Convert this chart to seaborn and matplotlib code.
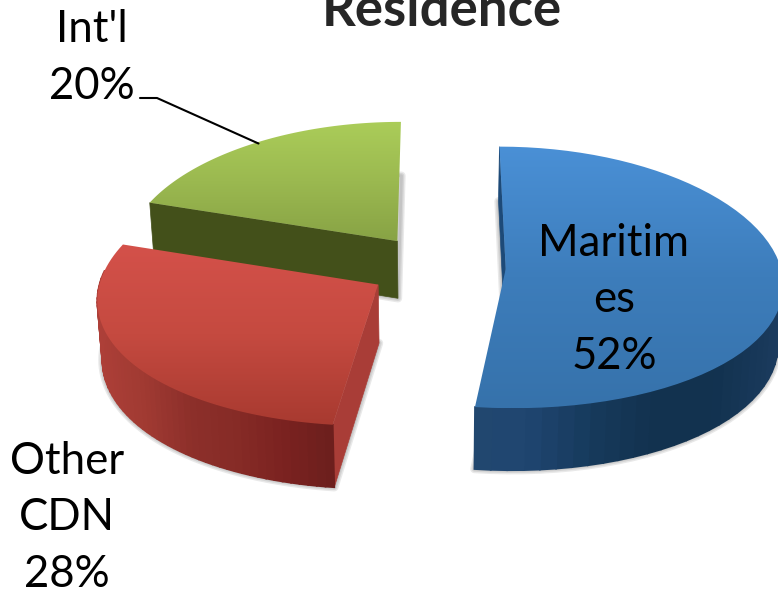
"""Exploded 3D style pie of residence shares, drawn on a pixel sized axes."""

import matplotlib
matplotlib.use("Agg")
import matplotlib.pyplot as plt
from matplotlib.patches import Polygon
import numpy as np
import seaborn as sns

title = "Residence"
labels = ["Maritim\nes", "Other\nCDN", "Int'l"]
shares = [52, 28, 20]

top_colors = [
    ["#4a90d6", "#3d7dbb", "#3672ab"],
    ["#d4514a", "#c54a40", "#a83a30"],
    ["#abcd59", "#9bb950", "#88a345"],
]
# left to right as seen on screen
side_colors = [
    ["#22486f", "#1f4570", "#163a5c", "#12324f", "#12324f", "#1b3b5e"],
    ["#ad3f38", "#a03a32", "#8d2f2a", "#862b26", "#7b2220", "#6d1f1d"],
    ["#45511a", "#4a4c17", "#3f4e1a"],
]
face_colors = ["#1d4a78", "#a93d37", "#43501a"]

sns.set_theme(style="white")
plt.rcParams["font.family"] = ["Lato", "DejaVu Sans"]

# projection of the pie plane to pixels
center_x, center_y = 437, 267
radius_x, radius_y = 275, 130
perspective_x = 0.10
perspective_y = 0.064
explode = 0.25
depth = 58
bottom_shrink = 0.985


def project(x, y, drop=0.0):
    shrink = 1 + (bottom_shrink - 1) * drop
    scale_y = 1 / (1 + perspective_y * y)
    sx = center_x + radius_x * x * shrink / (1 + perspective_x * y)
    sy = center_y - radius_y * y * scale_y + depth * scale_y * drop
    return sx, sy


fig = plt.figure(figsize=(7.78, 5.90), dpi=100)
ax = fig.add_axes([0, 0, 1, 1])

starts = np.cumsum([0] + shares[:-1]) * 3.6
sweeps = np.array(shares) * 3.6
anchor = None

# back to front, so the red slice covers the foot of the green one
for i in [2, 1, 0]:
    theta = np.radians(np.linspace(starts[i], starts[i] + sweeps[i], 61))
    mid = np.radians(starts[i] + sweeps[i] / 2)
    ox, oy = explode * np.sin(mid), explode * np.cos(mid)
    rim_x, rim_y = np.sin(theta) + ox, np.cos(theta) + oy

    top_x, top_y = project(rim_x, rim_y)
    low_x, low_y = project(rim_x, rim_y, 1)
    apex = project(ox, oy)
    apex_low = project(ox, oy, 1)

    # soft shadow around the foot of the slice
    foot = np.column_stack([np.r_[apex_low[0], low_x], np.r_[apex_low[1], low_y]])
    for lw in [6, 4, 2]:
        ax.add_patch(Polygon(foot, closed=True, fc="none", ec="#555555",
                             lw=lw, alpha=0.13, joinstyle="round", zorder=i * -3 + 7))

    # radial wall of the first edge, the only one that shows
    wall = [apex, (top_x[0], top_y[0]), (low_x[0], low_y[0]), apex_low]
    ax.add_patch(Polygon(wall, closed=True, fc=face_colors[i], ec=face_colors[i],
                         lw=0.5, zorder=i * -3 + 8))

    # outer wall as vertical strips, only the part that faces the viewer
    side_cmap = sns.blend_palette(side_colors[i], as_cmap=True)
    span = max(top_x.max() - top_x.min(), 1)
    for j in range(len(theta) - 1):
        if np.cos(theta[j]) > 0.1:
            continue
        strip = [(top_x[j], top_y[j]), (top_x[j + 1], top_y[j + 1]),
                 (low_x[j + 1], low_y[j + 1]), (low_x[j], low_y[j])]
        col = side_cmap((top_x[j] - top_x.min()) / span)
        ax.add_patch(Polygon(strip, closed=True, fc=col, ec=col, lw=1.2, zorder=i * -3 + 8))

    # top face with a vertical gradient
    outline = np.column_stack([np.r_[apex[0], top_x], np.r_[apex[1], top_y]])
    clip = Polygon(outline, closed=True, fc="none", ec="none", transform=ax.transData)
    ax.add_patch(clip)
    ymin, ymax = outline[:, 1].min(), outline[:, 1].max()
    shade = np.linspace(0, 1, 256).reshape(-1, 1)
    img = ax.imshow(shade, cmap=sns.blend_palette(top_colors[i], as_cmap=True), aspect="auto",
                    extent=[outline[:, 0].min(), outline[:, 0].max(), ymax, ymin],
                    zorder=i * -3 + 9, interpolation="bilinear")
    img.set_clip_path(clip)

    if i == 2:
        anchor = project(np.sin(mid) + ox, np.cos(mid) + oy)

ax.set_xlim(0, 778)
ax.set_ylim(590, 0)
ax.axis("off")

ax.plot([140, 157, anchor[0] + 5], [98, 98, anchor[1]], color="black", lw=1.5, zorder=12)

text_kw = dict(ha="center", va="center", fontsize=31.5, color="black",
               linespacing=1.46, zorder=13)
ax.text(614, 300, f"{labels[0]}\n{shares[0]}%", **text_kw)
ax.text(67, 518, f"{labels[1]}\n{shares[1]}%", **text_kw)
ax.text(92, 58, f"{labels[2]}\n{shares[2]}%", **text_kw)
ax.text(442, 11, title, ha="center", va="center", fontsize=38, fontweight="bold", zorder=13)

fig.savefig("out.png", dpi=100)
